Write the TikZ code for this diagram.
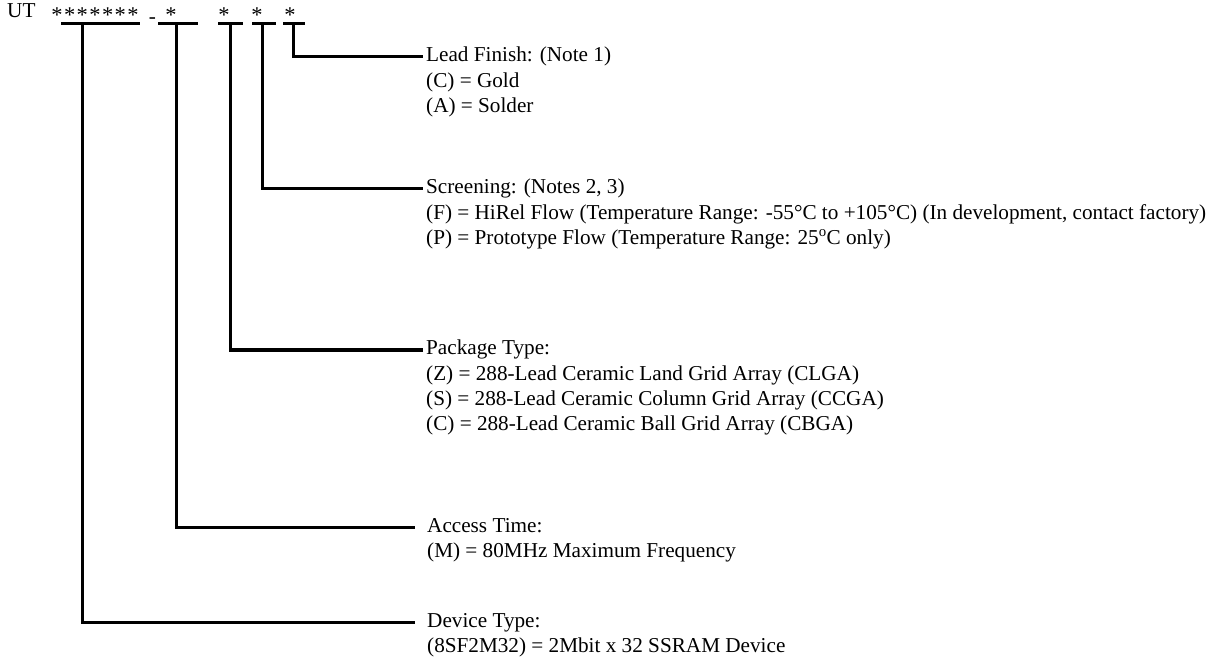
\documentclass[tikz,border=0pt]{standalone}
\usepackage{fontspec}
\setmainfont{Liberation Serif}
\usetikzlibrary{positioning}
\begin{document}
\begin{tikzpicture}[x=1pt,y=-1pt,
        font=\fontsize{21.2}{25}\selectfont,
        every node/.style={inner sep=0pt},
        field/.style={anchor=west,text height=14.6pt,text depth=4.6pt},
        choice/.style={field,node distance=5.5pt},
        star/.style={anchor=base,font=\fontsize{22.5}{25}\selectfont},
        bar/.style={line width=3pt},
        tie/.style={line width=3pt,shorten >=3pt}]
    \useasboundingbox (0,0) rectangle (1213,668);
    % part number
    \node[anchor=base west] (ut) at (7,18) {UT};
    \foreach \i in {0,...,6}
        \node[star] (star\i) at (57+12.67*\i,23) {*};
    \node[anchor=base] (dash) at (152.5,24) {-};
    \node[star] (sA) at (171,23) {*};
    \node[star] (sB) at (224,23) {*};
    \node[star] (sC) at (257,23) {*};
    \node[star] (sD) at (290,23) {*};
    \draw[bar] (61,24) -- (140,24);
    \draw[bar] (158,24) -- (198,24);
    \draw[bar] (218,24) -- (243,24);
    \draw[bar] (252,24) -- (276,24);
    \draw[bar] (283,24) -- (305,24);
    \coordinate (tDev) at (82,24);
    \coordinate (tAcc) at (176,24);
    \coordinate (tPkg) at (230,24);
    \coordinate (tScr) at (262,24);
    \coordinate (tFin) at (293,24);
    % fields
    \node[field] (lead) at (426,57) {Lead Finish: (Note 1)};
    \node[choice,below=of lead.south west,anchor=north west] (leadC) {(C) = Gold};
    \node[choice,below=of leadC.south west,anchor=north west] (leadA) {(A) = Solder};
    \node[field] (screen) at (426,189) {Screening: (Notes 2, 3)};
    \node[choice,below=of screen.south west,anchor=north west] (screenF)
        {(F) = HiRel Flow (Temperature Range: -55°C to +105°C) (In development, contact factory)};
    \node[choice,below=of screenF.south west,anchor=north west] (screenP)
        {(P) = Prototype Flow (Temperature Range: 25\textsuperscript{o}C only)};
    \node[field] (pkg) at (426,350) {Package Type:};
    \node[choice,below=of pkg.south west,anchor=north west] (pkgZ)
        {(Z) = 288-Lead Ceramic Land Grid Array (CLGA)};
    \node[choice,below=of pkgZ.south west,anchor=north west] (pkgS)
        {(S) = 288-Lead Ceramic Column Grid Array (CCGA)};
    \node[choice,below=of pkgS.south west,anchor=north west] (pkgC)
        {(C) = 288-Lead Ceramic Ball Grid Array (CBGA)};
    \node[field] (access) at (427,527) {Access Time:};
    \node[choice,below=of access.south west,anchor=north west] (accessM)
        {(M) = 80MHz Maximum Frequency};
    \node[field] (device) at (427,622) {Device Type:};
    \node[choice,below=of device.south west,anchor=north west] (deviceT)
        {(8SF2M32) = 2Mbit x 32 SSRAM Device};
    % connectors
    \draw[tie] (tFin) |- (lead.west);
    \draw[tie] (tScr) |- (screen.west);
    \draw[tie] (tPkg) |- (pkg.west);
    \draw[tie,shorten >=12pt] (tAcc) |- (access.west);
    \draw[tie,shorten >=12pt] (tDev) |- (device.west);
\end{tikzpicture}
\end{document}
